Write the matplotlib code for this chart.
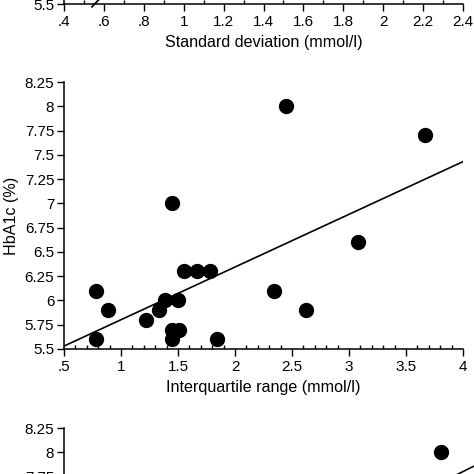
import matplotlib
matplotlib.use('Agg')
import matplotlib.pyplot as plt
from matplotlib.ticker import MultipleLocator

plt.rcParams['font.family'] = ['Liberation Sans', 'DejaVu Sans']

# middle panel: HbA1c vs interquartile range
iqr = [1.45, 2.45, 3.67, 3.08, 2.34, 2.62, 0.78, 0.78, 0.89, 1.22, 1.33, 1.39,
       1.50, 1.45, 1.51, 1.45, 1.55, 1.67, 1.78, 1.84]
hba1c = [7.0, 8.0, 7.7, 6.6, 6.1, 5.9, 6.1, 5.6, 5.9, 5.8, 5.9, 6.0,
         6.0, 5.7, 5.7, 5.6, 6.3, 6.3, 6.3, 5.6]
fit_x = [0.5, 4.0]
fit_y = [5.53, 7.43]

x_ticks = [0.5, 1, 1.5, 2, 2.5, 3, 3.5, 4]
x_labels = ['.5', '1', '1.5', '2', '2.5', '3', '3.5', '4']
y_ticks = [5.5, 5.75, 6, 6.25, 6.5, 6.75, 7, 7.25, 7.5, 7.75, 8, 8.25]
y_labels = ['5.5', '5.75', '6', '6.25', '6.5', '6.75', '7', '7.25', '7.5', '7.75', '8', '8.25']

# top panel (cut off): standard deviation axis
sd_ticks = [0.4, 0.6, 0.8, 1.0, 1.2, 1.4, 1.6, 1.8, 2.0, 2.2, 2.4]
sd_labels = ['.4', '.6', '.8', '1', '1.2', '1.4', '1.6', '1.8', '2', '2.2', '2.4']
sd_fit_x = [0.54, 0.60]
sd_fit_y = [5.47, 5.60]

# bottom panel (cut off)
bot_x = [3.81]
bot_y = [8.0]
bot_fit_x = [3.93, 4.1]
bot_fit_y = [7.76, 7.86]

fig = plt.figure(figsize=(4.74, 4.74), dpi=100)
L, W, H = 64 / 474, 399 / 474, 267 / 474


def style(ax, xmin, xmax, minor):
    for s in ['top', 'right']:
        ax.spines[s].set_visible(False)
    for s in ['left', 'bottom']:
        ax.spines[s].set_linewidth(1.1)
    ax.set_xlim(xmin, xmax)
    ax.set_ylim(5.5, 8.25)
    ax.set_yticks(y_ticks)
    ax.set_yticklabels(y_labels)
    ax.xaxis.set_minor_locator(MultipleLocator(minor))
    ax.tick_params(axis='both', which='major', direction='out', length=5, width=1,
                   labelsize=11, pad=2)
    ax.tick_params(axis='x', which='major', pad=3)
    ax.tick_params(axis='x', which='minor', direction='in', length=3, width=1)


# top
ax0 = fig.add_axes([L, 1 - 4 / 474, W, H])
style(ax0, 0.4, 2.4, 0.1)
ax0.set_xticks(sd_ticks)
ax0.set_xticklabels(sd_labels)
ax0.plot(sd_fit_x, sd_fit_y, color='black', lw=1.2, clip_on=False)
ax0.set_xlabel('Standard deviation (mmol/l)', fontsize=11.6, labelpad=4)

# middle
ax1 = fig.add_axes([L, 125 / 474, W, H])
style(ax1, 0.5, 4.0, 0.1)
ax1.set_xticks(x_ticks)
ax1.set_xticklabels(x_labels)
ax1.plot(fit_x, fit_y, color='black', lw=1.2)
ax1.plot(iqr, hba1c, 'o', color='black', ms=10, clip_on=False)
ax1.set_xlabel('Interquartile range (mmol/l)', fontsize=11.6, labelpad=4)
ax1.set_ylabel('HbA1c (%)', fontsize=11.6, labelpad=4)

# bottom
ax2 = fig.add_axes([L, 46 / 474 - H, W, H])
style(ax2, 0.5, 4.0, 0.1)
ax2.set_xticks(x_ticks)
ax2.set_xticklabels(x_labels)
ax2.plot(bot_x, bot_y, 'o', color='black', ms=10)
ax2.plot(bot_fit_x, bot_fit_y, color='black', lw=1.2, clip_on=False)

fig.savefig('out.png', dpi=100)
